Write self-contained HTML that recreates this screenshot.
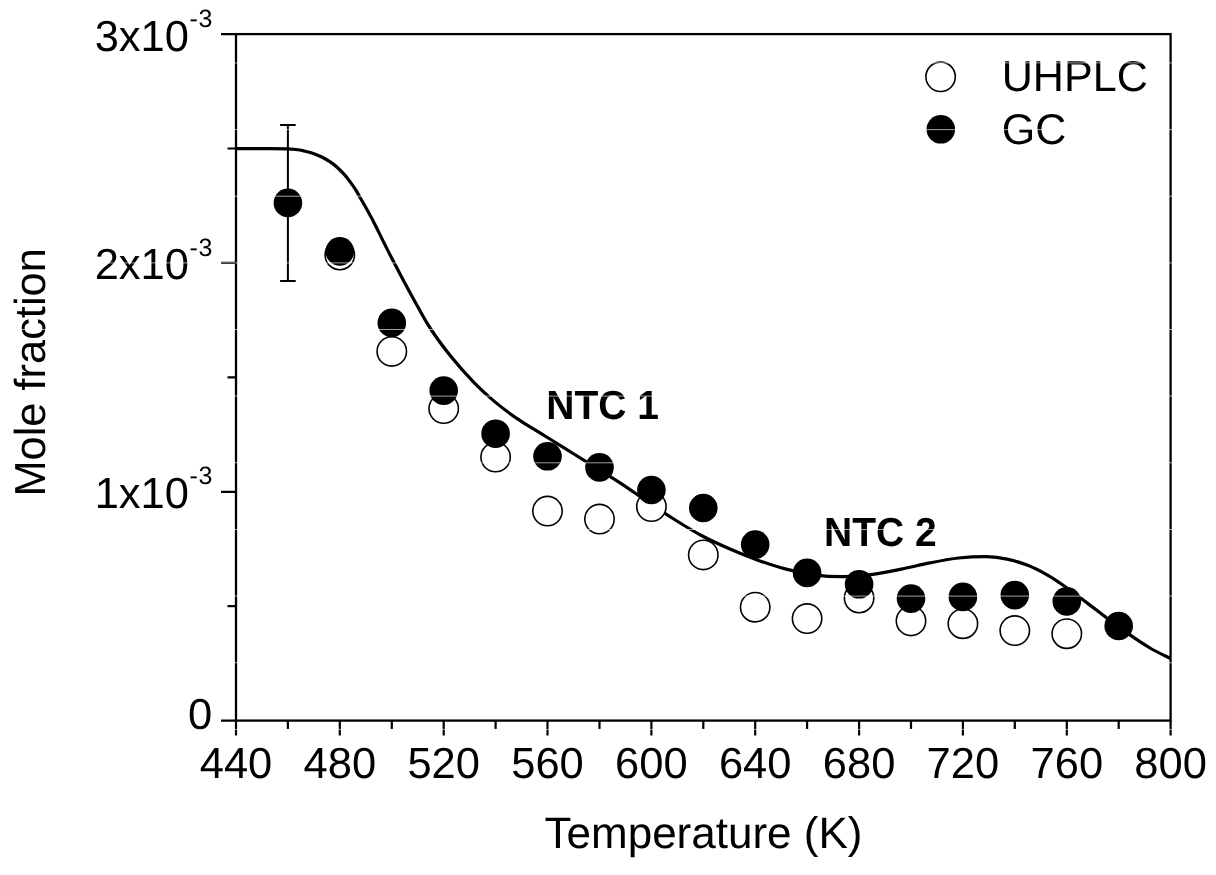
<!DOCTYPE html>
<html><head><meta charset="utf-8"><title>Mole fraction vs Temperature</title>
<style>
html,body{margin:0;padding:0;background:#fff;}
body{width:1216px;height:875px;overflow:hidden;}
svg{display:block;filter:blur(0.45px);}
text{font-family:"Liberation Sans",sans-serif;fill:#000;text-rendering:geometricPrecision;}
.b{font-weight:bold;}
</style></head><body>
<svg width="1216" height="875" viewBox="0 0 1216 875">
<rect width="1216" height="875" fill="#fff"/>
<path d="M236.0 148.7 C241.7 148.7 261.4 148.7 270.0 148.7 C278.6 148.7 283.2 148.7 287.5 148.8 C291.8 148.9 293.0 149.2 295.7 149.5 C298.4 149.8 301.3 150.3 303.9 150.9 C306.5 151.5 308.7 152.0 311.1 152.8 C313.5 153.6 315.9 154.5 318.3 155.5 C320.7 156.5 323.3 157.8 325.5 159.0 C327.7 160.2 329.6 161.4 331.7 162.9 C333.8 164.4 335.8 166.1 337.9 168.0 C339.9 169.9 342.0 172.0 344.0 174.2 C346.0 176.4 347.9 178.8 349.8 181.4 C351.7 184.0 354.0 187.2 355.6 189.6 C357.2 192.0 357.5 193.1 359.2 196.0 C360.9 198.9 363.5 203.5 365.7 207.3 C367.9 211.1 370.6 216.2 372.1 219.0 C373.6 221.8 372.7 220.1 374.7 224.0 C376.7 227.9 380.6 236.1 383.9 242.6 C387.1 249.1 390.8 256.3 394.2 262.8 C397.6 269.3 400.4 274.8 404.1 281.7 C407.8 288.6 412.0 296.5 416.4 304.3 C420.8 312.1 424.6 319.7 430.4 328.5 C436.2 337.3 444.1 348.0 451.4 357.1 C458.7 366.2 467.1 375.5 474.3 382.9 C481.5 390.3 487.2 395.4 494.3 401.4 C501.4 407.3 509.5 413.4 517.1 418.6 C524.7 423.9 532.4 428.1 540.0 432.9 C547.6 437.6 555.3 442.4 562.9 447.1 C570.5 451.9 578.1 456.6 585.7 461.4 C593.3 466.2 601.5 471.2 608.6 475.7 C615.8 480.2 622.7 484.6 628.6 488.6 C634.5 492.6 636.9 494.5 644.3 499.5 C651.7 504.5 663.4 512.5 672.9 518.5 C682.4 524.5 691.9 530.4 701.4 535.5 C710.9 540.6 720.5 544.9 730.0 549.0 C739.5 553.1 749.1 557.0 758.6 560.4 C768.1 563.8 777.6 566.9 787.1 569.4 C796.6 571.9 806.2 573.9 815.7 575.1 C825.2 576.3 834.8 576.7 844.3 576.6 C853.8 576.5 863.4 575.5 872.9 574.3 C882.4 573.0 891.9 571.0 901.4 569.1 C910.9 567.2 920.5 564.8 930.0 562.9 C939.5 561.0 949.1 559.0 958.6 558.0 C968.1 557.0 979.0 556.4 987.1 556.6 C995.2 556.8 1000.4 557.7 1007.1 559.1 C1013.8 560.5 1020.4 562.5 1027.1 565.1 C1033.8 567.7 1040.4 571.1 1047.1 574.9 C1053.8 578.7 1060.4 583.3 1067.1 588.0 C1073.8 592.7 1080.4 597.9 1087.1 602.9 C1093.8 607.9 1100.4 613.3 1107.1 618.3 C1113.8 623.3 1119.9 627.9 1127.1 632.9 C1134.2 637.9 1142.8 643.7 1150.0 648.0 C1157.2 652.3 1167.2 656.8 1170.6 658.6" fill="none" stroke="#000" stroke-width="3.2" stroke-linejoin="round"/>
<rect x="236.0" y="34.1" width="934.6" height="686.5" fill="none" stroke="#000" stroke-width="2.3"/>
<path d="M236.0 720.6V735.6M287.9 720.6V729.1M339.8 720.6V735.6M391.8 720.6V729.1M443.7 720.6V735.6M495.6 720.6V729.1M547.5 720.6V735.6M599.5 720.6V729.1M651.4 720.6V735.6M703.3 720.6V729.1M755.2 720.6V735.6M807.1 720.6V729.1M859.1 720.6V735.6M911.0 720.6V729.1M962.9 720.6V735.6M1014.8 720.6V729.1M1066.8 720.6V735.6M1118.7 720.6V729.1M1170.6 720.6V735.6M236.0 720.6H221.0M236.0 606.2H227.5M236.0 491.8H221.0M236.0 377.4H227.5M236.0 262.9H221.0M236.0 148.5H227.5M236.0 34.1H221.0" stroke="#000" stroke-width="2.2" fill="none"/>
<text x="236.0" y="778.4" font-size="43.5" text-anchor="middle">440</text>
<text x="339.8" y="778.4" font-size="43.5" text-anchor="middle">480</text>
<text x="443.7" y="778.4" font-size="43.5" text-anchor="middle">520</text>
<text x="547.5" y="778.4" font-size="43.5" text-anchor="middle">560</text>
<text x="651.4" y="778.4" font-size="43.5" text-anchor="middle">600</text>
<text x="755.2" y="778.4" font-size="43.5" text-anchor="middle">640</text>
<text x="859.1" y="778.4" font-size="43.5" text-anchor="middle">680</text>
<text x="962.9" y="778.4" font-size="43.5" text-anchor="middle">720</text>
<text x="1066.8" y="778.4" font-size="43.5" text-anchor="middle">760</text>
<text x="1170.6" y="778.4" font-size="43.5" text-anchor="middle">800</text>
<text x="189" y="508.3" font-size="43.5" text-anchor="end">1x10</text><text x="189.5" y="484.4" font-size="25" letter-spacing="0.7">-3</text>
<text x="189" y="279.4" font-size="43.5" text-anchor="end">2x10</text><text x="189.5" y="255.5" font-size="25" letter-spacing="0.7">-3</text>
<text x="189" y="50.6" font-size="43.5" text-anchor="end">3x10</text><text x="189.5" y="26.7" font-size="25" letter-spacing="0.7">-3</text>
<text x="212.3" y="728.6" font-size="43.5" text-anchor="end">0</text>
<text x="703.5" y="847.5" font-size="44" text-anchor="middle">Temperature (K)</text>
<text transform="translate(44.7 372.4) rotate(-90)" font-size="43.4" text-anchor="middle">Mole fraction</text>
<path d="M287.9 125.1V280.9M280.1 125.1H295.7M280.1 280.9H295.7" stroke="#000" stroke-width="2" fill="none"/>
<circle cx="339.8" cy="255.0" r="14.7" fill="#fff" stroke="#000" stroke-width="1.6"/>
<circle cx="391.8" cy="351.4" r="14.7" fill="#fff" stroke="#000" stroke-width="1.6"/>
<circle cx="443.7" cy="408.6" r="14.7" fill="#fff" stroke="#000" stroke-width="1.6"/>
<circle cx="495.6" cy="457.1" r="14.7" fill="#fff" stroke="#000" stroke-width="1.6"/>
<circle cx="547.5" cy="511.1" r="14.7" fill="#fff" stroke="#000" stroke-width="1.6"/>
<circle cx="599.5" cy="519.1" r="14.7" fill="#fff" stroke="#000" stroke-width="1.6"/>
<circle cx="651.4" cy="506.6" r="14.7" fill="#fff" stroke="#000" stroke-width="1.6"/>
<circle cx="703.3" cy="554.9" r="14.7" fill="#fff" stroke="#000" stroke-width="1.6"/>
<circle cx="755.2" cy="607.2" r="14.7" fill="#fff" stroke="#000" stroke-width="1.6"/>
<circle cx="807.1" cy="618.6" r="14.7" fill="#fff" stroke="#000" stroke-width="1.6"/>
<circle cx="859.1" cy="598.0" r="14.7" fill="#fff" stroke="#000" stroke-width="1.6"/>
<circle cx="911.0" cy="620.9" r="14.7" fill="#fff" stroke="#000" stroke-width="1.6"/>
<circle cx="962.9" cy="623.7" r="14.7" fill="#fff" stroke="#000" stroke-width="1.6"/>
<circle cx="1014.8" cy="630.6" r="14.7" fill="#fff" stroke="#000" stroke-width="1.6"/>
<circle cx="1066.8" cy="633.7" r="14.7" fill="#fff" stroke="#000" stroke-width="1.6"/>
<circle cx="287.9" cy="202.9" r="14.3" fill="#000"/>
<circle cx="339.8" cy="251.4" r="14.3" fill="#000"/>
<circle cx="391.8" cy="322.9" r="14.3" fill="#000"/>
<circle cx="443.7" cy="390.6" r="14.3" fill="#000"/>
<circle cx="495.6" cy="433.7" r="14.3" fill="#000"/>
<circle cx="547.5" cy="456.3" r="14.3" fill="#000"/>
<circle cx="599.5" cy="467.4" r="14.3" fill="#000"/>
<circle cx="651.4" cy="490.0" r="14.3" fill="#000"/>
<circle cx="703.3" cy="508.0" r="14.3" fill="#000"/>
<circle cx="755.2" cy="544.6" r="14.3" fill="#000"/>
<circle cx="807.1" cy="572.9" r="14.3" fill="#000"/>
<circle cx="859.1" cy="584.3" r="14.3" fill="#000"/>
<circle cx="911.0" cy="598.6" r="14.3" fill="#000"/>
<circle cx="962.9" cy="596.9" r="14.3" fill="#000"/>
<circle cx="1014.8" cy="595.1" r="14.3" fill="#000"/>
<circle cx="1066.8" cy="601.4" r="14.3" fill="#000"/>
<circle cx="1118.7" cy="626.0" r="14.3" fill="#000"/>
<circle cx="940.6" cy="76.8" r="14.7" fill="#fff" stroke="#000" stroke-width="1.6"/>
<circle cx="940.8" cy="129.3" r="14.3" fill="#000"/>
<text x="1001.7" y="90.7" font-size="43.1">UHPLC</text>
<text x="1001.7" y="143.6" font-size="43">GC</text>
<text class="b" transform="translate(546.3 418.7) scale(1 1.04)" font-size="39">NTC 1</text>
<text class="b" transform="translate(824.1 545.9) scale(1 1.04)" font-size="39">NTC 2</text>
<path d="M0 62.9H1216M0 129.6H1216M0 196.2H1216M0 262.9H1216M0 329.5H1216M0 396.1H1216M0 462.8H1216M0 529.5H1216M0 596.1H1216M0 662.8H1216M0 729.4H1216M0 796.1H1216M0 862.7H1216" stroke="#fff" stroke-opacity="0.8" stroke-width="0.8" fill="none"/>
</svg>
</body></html>
